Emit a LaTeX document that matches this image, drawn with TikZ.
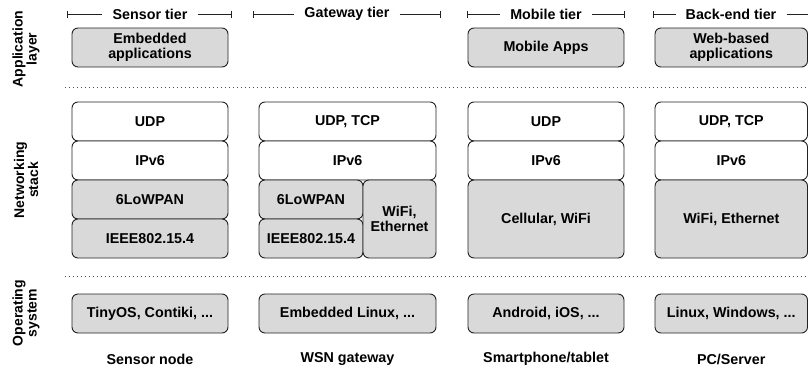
\documentclass[tikz,border=0pt]{standalone}
\usepackage{fontspec}
\setmainfont{Liberation Sans}
\usetikzlibrary{arrows.meta}
\definecolor{boxgray}{HTML}{D9D9D9}
\definecolor{linec}{HTML}{222222}
\tikzset{
  lay/.style={draw=linec, rounded corners=6pt, line width=0.9pt, minimum height=39pt, inner sep=0pt, align=center, font=\bfseries\fontsize{14.3}{15}\selectfont},
  grayb/.style={lay, fill=boxgray},
  whiteb/.style={lay, fill=white},
  lbl/.style={align=center, font=\bfseries\fontsize{14.3}{15}\selectfont, inner sep=0pt},
  side/.style={align=center, font=\bfseries\fontsize{14}{14}\selectfont, inner sep=0pt, rotate=90},
  tier/.style={font=\bfseries\fontsize{14.3}{15}\selectfont, inner xsep=10pt, inner ysep=0pt},
  brk/.style={line width=0.8pt, draw=linec},
  sep/.style={line width=0.9pt, draw=linec!80, dash pattern=on 1pt off 3pt},
}
\begin{document}
\begin{tikzpicture}[x=1pt,y=1pt]
\useasboundingbox (0,0) rectangle (808,-370);
\clip (0,0) rectangle (808,-370);
% side labels
\node[side] (sl1) at (26,-49) {Application\\layer};
\node[side] (sl2) at (26,-180) {Networking\\stack};
\node[side] (sl3) at (26,-313) {Operating\\system};
% tiers
\node[tier] (t1) at (150,-14) {Sensor tier};
\node[tier] (t2) at (347,-14) {Gateway tier};
\node[tier] (t3) at (546,-14) {Mobile tier};
\node[tier] (t4) at (731,-14) {Back-end tier};
\coordinate (t1l) at (67,-14); \coordinate (t1r) at (232,-14);
\coordinate (t2l) at (253,-14); \coordinate (t2r) at (441,-14);
\coordinate (t3l) at (467,-14); \coordinate (t3r) at (625,-14);
\coordinate (t4l) at (653,-14); \coordinate (t4r) at (812,-14);
\foreach \i in {1,2,3}{
  \draw[brk,{Bar[width=7pt,line width=0.8pt]}-] (t\i l) -- (t\i.west);
  \draw[brk,-{Bar[width=7pt,line width=0.8pt]}] (t\i.east) -- (t\i r);
}
\draw[brk,{Bar[width=7pt,line width=0.8pt]}-] (t4l) -- (t4.west);
\draw[brk] (t4.east) -- (t4r);
% application layer
\node[grayb, minimum width=156pt] (a1) at (150,-47.5) {Embedded\\applications};
\node[grayb, minimum width=156pt] (a3) at (546,-47.5) {Mobile Apps};
\node[grayb, minimum width=152.5pt] (a4) at (731.25,-47.5) {Web-based\\applications};
% separators
\coordinate (s1l) at (65,-87); \coordinate (s1r) at (810,-87);
\coordinate (s2l) at (65,-276); \coordinate (s2r) at (810,-276);
\draw[sep] (s1l) -- (s1r);
\draw[sep] (s2l) -- (s2r);
% networking col1
\node[whiteb, minimum width=156pt] (n1a) at (150,-121.5) {UDP};
\node[whiteb, minimum width=156pt] (n1b) at (150,-160.5) {IPv6};
\node[grayb, minimum width=156pt] (n1c) at (150,-199.5) {6LoWPAN};
\node[grayb, minimum width=156pt] (n1d) at (150,-238.5) {IEEE802.15.4};
% col2
\node[whiteb, minimum width=177pt] (n2a) at (347.5,-121.5) {UDP, TCP};
\node[whiteb, minimum width=177pt] (n2b) at (347.5,-160.5) {IPv6};
\node[grayb, minimum width=104pt] (n2c) at (311,-199.5) {6LoWPAN};
\node[grayb, minimum width=104pt] (n2d) at (311,-238.5) {IEEE802.15.4};
\node[grayb, minimum width=73pt, minimum height=78pt] (n2e) at (399.5,-219) {WiFi,\\Ethernet};
% col3
\node[whiteb, minimum width=156pt] (n3a) at (546,-121.5) {UDP};
\node[whiteb, minimum width=156pt] (n3b) at (546,-160.5) {IPv6};
\node[grayb, minimum width=156pt, minimum height=78pt] (n3c) at (546,-219) {Cellular, WiFi};
% col4
\node[whiteb, minimum width=152.5pt] (n4a) at (731.25,-121.5) {UDP, TCP};
\node[whiteb, minimum width=152.5pt] (n4b) at (731.25,-160.5) {IPv6};
\node[grayb, minimum width=152.5pt, minimum height=78pt] (n4c) at (731.25,-219) {WiFi, Ethernet};
% OS
\node[grayb, minimum width=156pt] (o1) at (150,-313.5) {TinyOS, Contiki, ...};
\node[grayb, minimum width=177pt] (o2) at (347.5,-313.5) {Embedded Linux, ...};
\node[grayb, minimum width=156pt] (o3) at (546,-313.5) {Android, iOS, ...};
\node[grayb, minimum width=152.5pt] (o4) at (731.25,-313.5) {Linux, Windows, ...};
% bottom labels
\node[lbl] (b1) at (150,-359) {Sensor node};
\node[lbl] (b2) at (347.5,-359) {WSN gateway};
\node[lbl] (b3) at (546,-359) {Smartphone/tablet};
\node[lbl] (b4) at (731.25,-359) {PC/Server};
\end{tikzpicture}
\end{document}
